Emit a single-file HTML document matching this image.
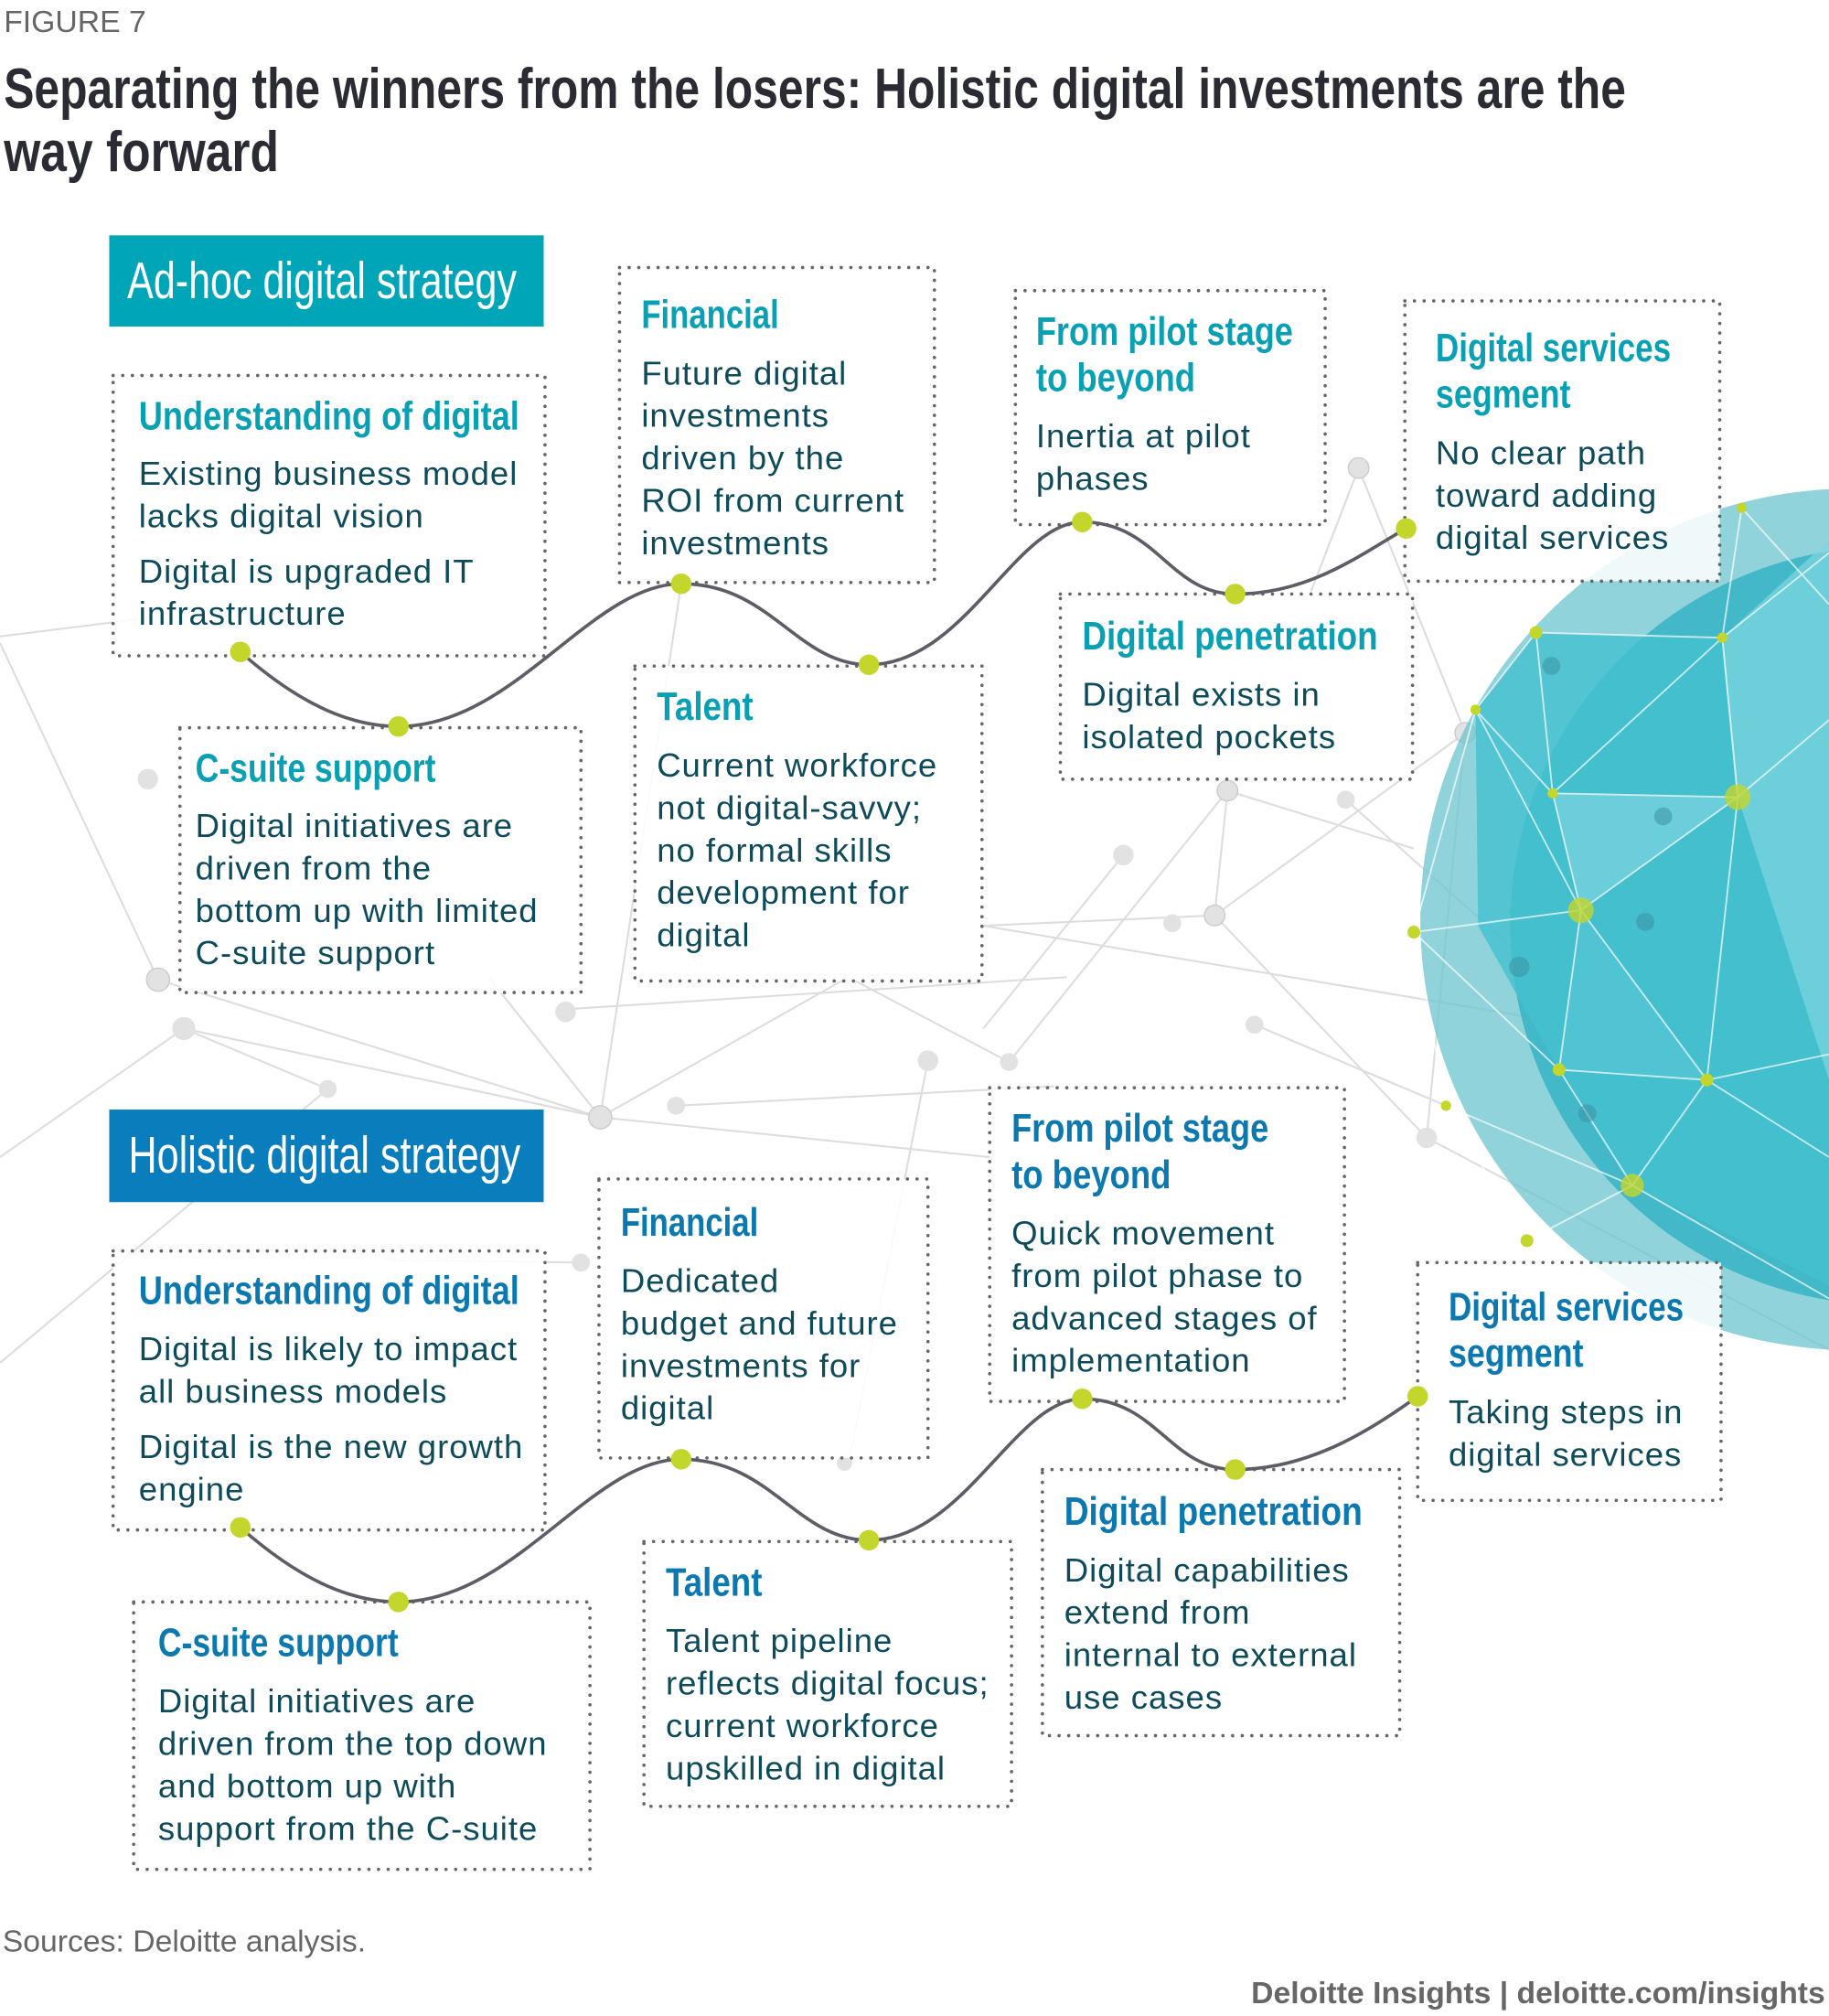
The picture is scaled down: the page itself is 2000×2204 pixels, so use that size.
<!DOCTYPE html>
<html><head><meta charset="utf-8"><style>
html,body{margin:0;padding:0;background:#fff}
svg{display:block}
.h{font-family:"Liberation Sans Narrow","Liberation Sans",sans-serif;font-weight:bold;font-size:31px;fill:#0aa0b4}
.h2{font-family:"Liberation Sans Narrow","Liberation Sans",sans-serif;font-weight:bold;font-size:31px;fill:#0b78b0}
.b{font-family:"Liberation Sans",sans-serif;font-size:26px;letter-spacing:0.7px;fill:#0d4a5a}
.box{fill:rgba(255,255,255,0.85);stroke:#666;stroke-width:2.6;stroke-dasharray:0 7.5;stroke-linecap:round}
.lbl{font-family:"Liberation Sans Narrow","Liberation Sans",sans-serif;font-size:40px;fill:#fff}
.net line{stroke:#ddd;stroke-width:1.5}
.net circle{fill:#e2e2e2}
.curve{fill:none;stroke:#5d5d66;stroke-width:2.6}
.dot{fill:#c3d62c}
</style></head><body>
<svg width="2000" height="2204" viewBox="0 0 1423 1568" xmlns="http://www.w3.org/2000/svg">
<g class="net">
<line x1="0" y1="495" x2="120" y2="480"/><line x1="0" y1="500" x2="123" y2="762"/>
<line x1="123" y1="762" x2="467" y2="869"/><line x1="143" y1="800" x2="467" y2="869"/>
<line x1="467" y1="869" x2="530" y2="454"/><line x1="467" y1="869" x2="660" y2="760"/>
<line x1="467" y1="869" x2="380" y2="760"/><line x1="0" y1="900" x2="143" y2="800"/>
<line x1="143" y1="800" x2="255" y2="847"/><line x1="255" y1="847" x2="0" y2="1060"/>
<line x1="467" y1="869" x2="770" y2="900"/><line x1="660" y1="760" x2="785" y2="826"/>
<line x1="785" y1="826" x2="955" y2="615"/><line x1="955" y1="615" x2="945" y2="712"/>
<line x1="945" y1="712" x2="1140" y2="570"/><line x1="945" y1="712" x2="1110" y2="885"/>
<line x1="765" y1="720" x2="945" y2="712"/><line x1="874" y1="665" x2="765" y2="800"/>
<line x1="1057" y1="364" x2="1020" y2="460"/><line x1="1057" y1="364" x2="1140" y2="570"/>
<line x1="1140" y1="570" x2="1110" y2="885"/><line x1="976" y1="797" x2="1125" y2="860"/>
<line x1="526" y1="860" x2="820" y2="845"/><line x1="722" y1="825" x2="660" y2="1140"/>
<line x1="765" y1="720" x2="1423" y2="830"/><line x1="1110" y1="885" x2="1423" y2="1050"/>
<line x1="440" y1="785" x2="830" y2="760"/><line x1="300" y1="980" x2="452" y2="982"/>
<line x1="955" y1="615" x2="1100" y2="660"/><line x1="1047" y1="622" x2="1180" y2="740"/>
<circle cx="115" cy="606" r="8"/><circle cx="123" cy="762" r="9" fill="#eee" stroke="#ccc"/>
<circle cx="143" cy="800" r="9" fill="#eee"/><circle cx="255" cy="847" r="7"/>
<circle cx="467" cy="869" r="9" fill="#f2f2f2" stroke="#ccc"/><circle cx="526" cy="860" r="7"/>
<circle cx="440" cy="787" r="8" fill="#eee"/><circle cx="452" cy="982" r="7"/>
<circle cx="785" cy="826" r="7"/><circle cx="722" cy="825" r="8" fill="#eee"/>
<circle cx="912" cy="718" r="7"/><circle cx="976" cy="797" r="7"/>
<circle cx="1047" cy="622" r="7"/><circle cx="955" cy="615" r="8" fill="#f2f2f2" stroke="#ccc"/>
<circle cx="945" cy="712" r="8" fill="#f2f2f2" stroke="#ccc"/><circle cx="874" cy="665" r="8" fill="#eee"/>
<circle cx="1057" cy="364" r="8" fill="#f2f2f2" stroke="#ccc"/><circle cx="1140" cy="570" r="8" fill="#f2f2f2" stroke="#ccc"/>
<circle cx="1110" cy="885" r="8" fill="#eee"/><circle cx="657" cy="1138" r="6"/>
</g>
<g>
<circle cx="1440" cy="715" r="335" fill="#6cc4cf" opacity="0.75"/>
<circle cx="1470" cy="720" r="295" fill="#2fb2c4" opacity="0.8"/>
<polygon points="1195,492 1340,496 1423,430 1423,1000 1270,922 1213,832 1150,720 1148,552" fill="#44c0d0" opacity="0.8"/>
<polygon points="1340,496 1423,420 1423,840 1352,620" fill="#7fd6e0" opacity="0.7"/>
<polygon points="1208,617 1352,620 1230,708" fill="#88d8e2" opacity="0.6"/>
<polygon points="1230,708 1328,840 1213,832" fill="#55c6d4" opacity="0.7"/>
<g stroke="#fff" stroke-width="1.3" opacity="0.7" fill="none">
<polyline points="1148,552 1195,492 1340,496 1423,430"/>
<polyline points="1148,552 1208,617 1352,620 1423,560"/>
<polyline points="1100,725 1230,708 1352,620 1340,496"/>
<polyline points="1100,725 1213,832 1328,840 1423,820"/>
<polyline points="1125,860 1270,922 1328,840 1423,900"/>
<polyline points="1188,965 1270,922 1423,1010"/>
<polyline points="1195,492 1208,617 1230,708 1213,832 1270,922"/>
<polyline points="1340,496 1352,620 1328,840"/>
<polyline points="1148,552 1230,708 1328,840"/>
<polyline points="1148,552 1100,725 1125,860 1188,965"/>
<polyline points="1355,395 1340,496 1208,617"/>
<polyline points="1355,395 1423,470"/>
</g>
<g fill="#c3d62c">
<circle cx="1195" cy="492" r="5"/><circle cx="1340" cy="496" r="4"/><circle cx="1352" cy="620" r="10" opacity="0.8"/>
<circle cx="1230" cy="708" r="10" opacity="0.8"/><circle cx="1208" cy="617" r="4"/><circle cx="1148" cy="552" r="4"/>
<circle cx="1100" cy="725" r="5"/><circle cx="1213" cy="832" r="5"/><circle cx="1328" cy="840" r="5"/>
<circle cx="1270" cy="922" r="9" opacity="0.8"/><circle cx="1188" cy="965" r="5"/><circle cx="1125" cy="860" r="4"/><circle cx="1355" cy="395" r="4"/>
</g>
<g fill="#3a8e9c" opacity="0.5"><circle cx="1207" cy="518" r="7"/><circle cx="1294" cy="635" r="7"/><circle cx="1280" cy="717" r="7"/><circle cx="1182" cy="752" r="8"/><circle cx="1235" cy="866" r="7"/></g>
</g>

<text x="3" y="25" font-family="Liberation Sans,sans-serif" font-size="24" fill="#666">FIGURE 7</text>
<text x="3" y="84" font-family="Liberation Sans Narrow,Liberation Sans,sans-serif" font-weight="bold" font-size="44" fill="#2b2b33" textLength="1262" lengthAdjust="spacingAndGlyphs">Separating the winners from the losers: Holistic digital investments are the</text>
<text x="3" y="133" font-family="Liberation Sans Narrow,Liberation Sans,sans-serif" font-weight="bold" font-size="44" fill="#2b2b33" textLength="214" lengthAdjust="spacingAndGlyphs">way forward</text>

<rect x="85" y="183" width="338" height="71" fill="#00a6b8"/>
<text class="lbl" x="99" y="232" textLength="303" lengthAdjust="spacingAndGlyphs">Ad-hoc digital strategy</text>

<rect class="box" x="88" y="292" width="336" height="218"/>
<text class="h" x="108" y="334" textLength="296" lengthAdjust="spacingAndGlyphs">Understanding of digital</text>
<text class="b" x="108" y="377">Existing business model</text><text class="b" x="108" y="410">lacks digital vision</text>
<text class="b" x="108" y="453">Digital is upgraded IT</text><text class="b" x="108" y="486">infrastructure</text>

<rect class="box" x="140" y="566" width="312" height="206"/>
<text class="h" x="152" y="608" textLength="187" lengthAdjust="spacingAndGlyphs">C-suite support</text>
<text class="b" x="152" y="651">Digital initiatives are</text><text class="b" x="152" y="684">driven from the</text>
<text class="b" x="152" y="717">bottom up with limited</text><text class="b" x="152" y="750">C-suite support</text>

<rect class="box" x="482" y="208" width="245" height="245"/>
<text class="h" x="499" y="255" textLength="107" lengthAdjust="spacingAndGlyphs">Financial</text>
<text class="b" x="499" y="299">Future digital</text><text class="b" x="499" y="332">investments</text>
<text class="b" x="499" y="365">driven by the</text><text class="b" x="499" y="398">ROI from current</text><text class="b" x="499" y="431">investments</text>

<rect class="box" x="494" y="518" width="270" height="245"/>
<text class="h" x="511" y="560" textLength="75" lengthAdjust="spacingAndGlyphs">Talent</text>
<text class="b" x="511" y="604">Current workforce</text><text class="b" x="511" y="637">not digital-savvy;</text>
<text class="b" x="511" y="670">no formal skills</text><text class="b" x="511" y="703">development for</text><text class="b" x="511" y="736">digital</text>

<rect class="box" x="790" y="226" width="241" height="182"/>
<text class="h" x="806" y="268" textLength="200" lengthAdjust="spacingAndGlyphs">From pilot stage</text><text class="h" x="806" y="304" textLength="124" lengthAdjust="spacingAndGlyphs">to beyond</text>
<text class="b" x="806" y="348">Inertia at pilot</text><text class="b" x="806" y="381">phases</text>

<rect class="box" x="825" y="462" width="274" height="144"/>
<text class="h" x="842" y="505" textLength="230" lengthAdjust="spacingAndGlyphs">Digital penetration</text>
<text class="b" x="842" y="549">Digital exists in</text><text class="b" x="842" y="582">isolated pockets</text>

<rect class="box" x="1093" y="234" width="245" height="218"/>
<text class="h" x="1117" y="281" textLength="183" lengthAdjust="spacingAndGlyphs">Digital services</text><text class="h" x="1117" y="317" textLength="105" lengthAdjust="spacingAndGlyphs">segment</text>
<text class="b" x="1117" y="361">No clear path</text><text class="b" x="1117" y="394">toward adding</text><text class="b" x="1117" y="427">digital services</text>

<path class="curve" d="M187,507 C230,545 270,565 310,565 C400,565 460,454 530,454 C600,454 620,517 676,517 C750,517 790,406 842,406 C900,406 910,462 961,462 C1020,462 1060,430 1094,411"/>
<g class="dot"><circle cx="187" cy="507" r="8"/><circle cx="310" cy="565" r="8"/><circle cx="530" cy="454" r="8"/><circle cx="676" cy="517" r="8"/><circle cx="842" cy="406" r="8"/><circle cx="961" cy="462" r="8"/><circle cx="1094" cy="411" r="8"/></g>

<rect x="85" y="863" width="338" height="72" fill="#0a7dbc"/>
<text class="lbl" x="100" y="912" textLength="305" lengthAdjust="spacingAndGlyphs">Holistic digital strategy</text>

<rect class="box" x="88" y="973" width="336" height="217"/>
<text class="h2" x="108" y="1014" textLength="296" lengthAdjust="spacingAndGlyphs">Understanding of digital</text>
<text class="b" x="108" y="1058">Digital is likely to impact</text><text class="b" x="108" y="1091">all business models</text>
<text class="b" x="108" y="1134">Digital is the new growth</text><text class="b" x="108" y="1167">engine</text>

<rect class="box" x="104" y="1246" width="355" height="208"/>
<text class="h2" x="123" y="1288" textLength="187" lengthAdjust="spacingAndGlyphs">C-suite support</text>
<text class="b" x="123" y="1332">Digital initiatives are</text><text class="b" x="123" y="1365">driven from the top down</text>
<text class="b" x="123" y="1398">and bottom up with</text><text class="b" x="123" y="1431">support from the C-suite</text>

<rect class="box" x="466" y="917" width="256" height="217"/>
<text class="h2" x="483" y="961" textLength="107" lengthAdjust="spacingAndGlyphs">Financial</text>
<text class="b" x="483" y="1005">Dedicated</text><text class="b" x="483" y="1038">budget and future</text>
<text class="b" x="483" y="1071">investments for</text><text class="b" x="483" y="1104">digital</text>

<rect class="box" x="501" y="1199" width="286" height="206"/>
<text class="h2" x="518" y="1241" textLength="75" lengthAdjust="spacingAndGlyphs">Talent</text>
<text class="b" x="518" y="1285">Talent pipeline</text><text class="b" x="518" y="1318">reflects digital focus;</text>
<text class="b" x="518" y="1351">current workforce</text><text class="b" x="518" y="1384">upskilled in digital</text>

<rect class="box" x="770" y="846" width="276" height="244"/>
<text class="h2" x="787" y="888" textLength="200" lengthAdjust="spacingAndGlyphs">From pilot stage</text><text class="h2" x="787" y="924" textLength="124" lengthAdjust="spacingAndGlyphs">to beyond</text>
<text class="b" x="787" y="968">Quick movement</text><text class="b" x="787" y="1001">from pilot phase to</text>
<text class="b" x="787" y="1034">advanced stages of</text><text class="b" x="787" y="1067">implementation</text>

<rect class="box" x="811" y="1143" width="278" height="207"/>
<text class="h2" x="828" y="1186" textLength="232" lengthAdjust="spacingAndGlyphs">Digital penetration</text>
<text class="b" x="828" y="1230">Digital capabilities</text><text class="b" x="828" y="1263">extend from</text>
<text class="b" x="828" y="1296">internal to external</text><text class="b" x="828" y="1329">use cases</text>

<rect class="box" x="1103" y="982" width="236" height="185"/>
<text class="h2" x="1127" y="1027" textLength="183" lengthAdjust="spacingAndGlyphs">Digital services</text><text class="h2" x="1127" y="1063" textLength="105" lengthAdjust="spacingAndGlyphs">segment</text>
<text class="b" x="1127" y="1107">Taking steps in</text><text class="b" x="1127" y="1140">digital services</text>

<path class="curve" d="M187,1188 C230,1226 270,1246 310,1246 C400,1246 460,1135 530,1135 C600,1135 620,1198 676,1198 C750,1198 790,1088 842,1088 C900,1088 910,1143 961,1143 C1020,1143 1070,1110 1103,1086"/>
<g class="dot"><circle cx="187" cy="1188" r="8"/><circle cx="310" cy="1246" r="8"/><circle cx="530" cy="1135" r="8"/><circle cx="676" cy="1198" r="8"/><circle cx="842" cy="1088" r="8"/><circle cx="961" cy="1143" r="8"/><circle cx="1103" cy="1086" r="8"/></g>

<text x="2" y="1518" font-family="Liberation Sans,sans-serif" font-size="24" fill="#666">Sources: Deloitte analysis.</text>
<text x="1420" y="1558" text-anchor="end" font-family="Liberation Sans,sans-serif" font-weight="bold" font-size="24" fill="#666">Deloitte Insights | deloitte.com/insights</text>
</svg>
</body></html>
